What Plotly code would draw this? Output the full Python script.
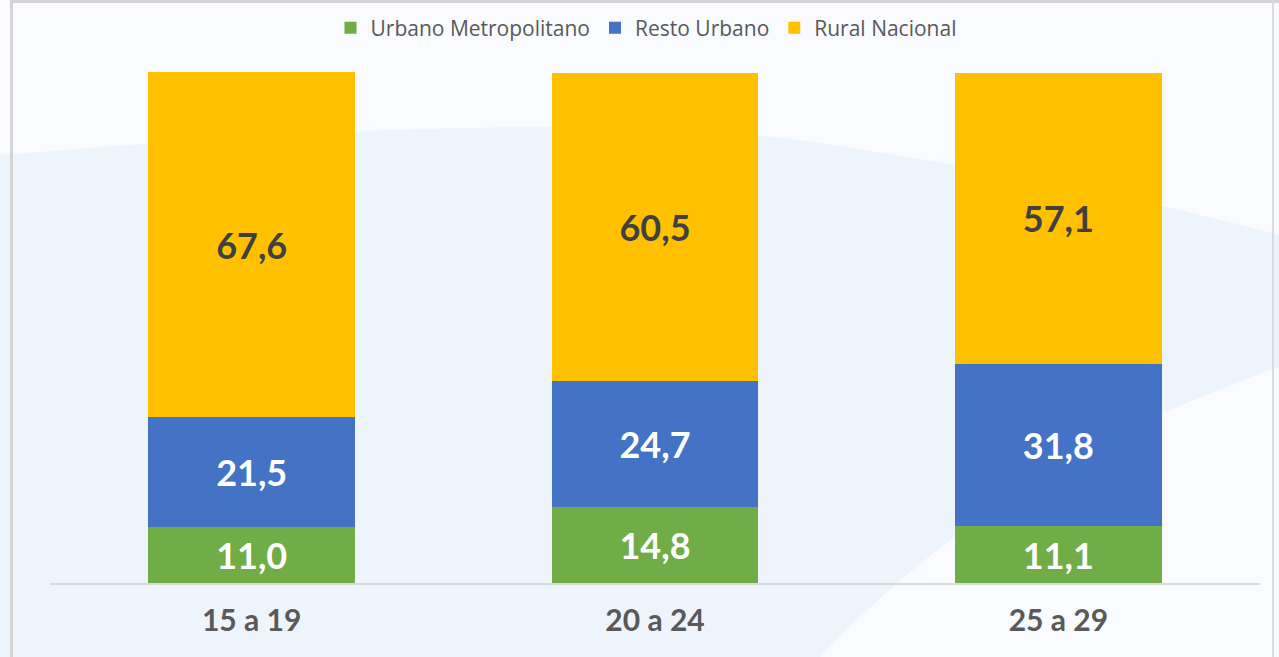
import plotly.graph_objects as go

categories = ["15 a 19", "20 a 24", "25 a 29"]
urbano_metro = [11.0, 14.8, 11.1]
resto_urbano = [21.5, 24.7, 31.8]
rural_nacional = [67.6, 60.5, 57.1]

series = [
    ("Urbano Metropolitano", urbano_metro, "#70AD47", "#FFFFFF"),
    ("Resto Urbano", resto_urbano, "#4472C4", "#FFFFFF"),
    ("Rural Nacional", rural_nacional, "#FFC000", "#404040"),
]

W, H = 1279, 657
ML, MR, MT, MB = 50, 19, 72, 74
PW, PH = W - ML - MR, H - MT - MB

def px(x):
    return (x - ML) / PW

def py(y):
    return 1 - (y - MT) / PH

fig = go.Figure()
for name, vals, color, tcolor in series:
    fig.add_trace(go.Bar(
        name=name, x=categories, y=vals,
        marker=dict(color=color, line=dict(width=0)),
        text=[f"{v:.1f}".replace(".", ",") for v in vals],
        textposition="inside", insidetextanchor="middle",
        textfont=dict(family="Lato", size=36, color=tcolor, weight="bold"),
        textangle=0,
        cliponaxis=False,
    ))

# background wave
wave = (f"M {px(0)},{py(155)} C {px(300)},{py(130)} {px(600)},{py(115)} {px(800)},{py(140)} "
        f"C {px(1000)},{py(170)} {px(1150)},{py(200)} {px(1279)},{py(235)} "
        f"L {px(1279)},{py(367)} C {px(1100)},{py(430)} {px(950)},{py(520)} {px(820)},{py(657)} "
        f"L {px(0)},{py(657)} Z")

shapes = [
    dict(type="path", path=wave, xref="paper", yref="paper", fillcolor="#eef4fc",
         line=dict(width=0), layer="below"),
    dict(type="line", xref="paper", yref="paper", x0=px(11.5), x1=px(11.5), y0=py(0), y1=py(657),
         line=dict(color="#d4d4d4", width=3), layer="above"),
    dict(type="line", xref="paper", yref="paper", x0=px(11), x1=px(1279), y0=py(1.5), y1=py(1.5),
         line=dict(color="#d4d4d4", width=3), layer="above"),
    dict(type="line", xref="paper", yref="paper", x0=px(1273), x1=px(1273), y0=py(0), y1=py(657),
         line=dict(color="#dcdcdc", width=2), layer="above"),
]

fig.update_layout(
    width=W, height=H,
    margin=dict(l=ML, r=MR, t=MT, b=MB, autoexpand=False),
    barmode="stack", bargap=0.487,
    paper_bgcolor="#f9fbfe", plot_bgcolor="rgba(0,0,0,0)",
    shapes=shapes,
    showlegend=True,
    legend=dict(orientation="h", xref="container", yref="container",
                x=646 / W, xanchor="center", y=1 - 28 / H, yanchor="middle",
                font=dict(family="Open Sans", size=21, color="#595959"),
                itemwidth=30, traceorder="normal", bgcolor="rgba(0,0,0,0)"),
    xaxis=dict(showline=True, linecolor="#d9d9d9", linewidth=1.5, ticks="",
               ticklabelstandoff=10,
               tickfont=dict(family="Lato", size=30, color="#595959", weight="bold"),
               showgrid=False),
    yaxis=dict(range=[0, 100.1], visible=False, showgrid=False),
    uniformtext=dict(mode=False),
)

fig.write_html("out.html", config={"displayModeBar": False})
with open("out.html", "r", encoding="utf-8") as f:
    html = f.read()
html = html.replace("<body>", '<body style="margin:0;padding:0;overflow:hidden">', 1)
with open("out.html", "w", encoding="utf-8") as f:
    f.write(html)
